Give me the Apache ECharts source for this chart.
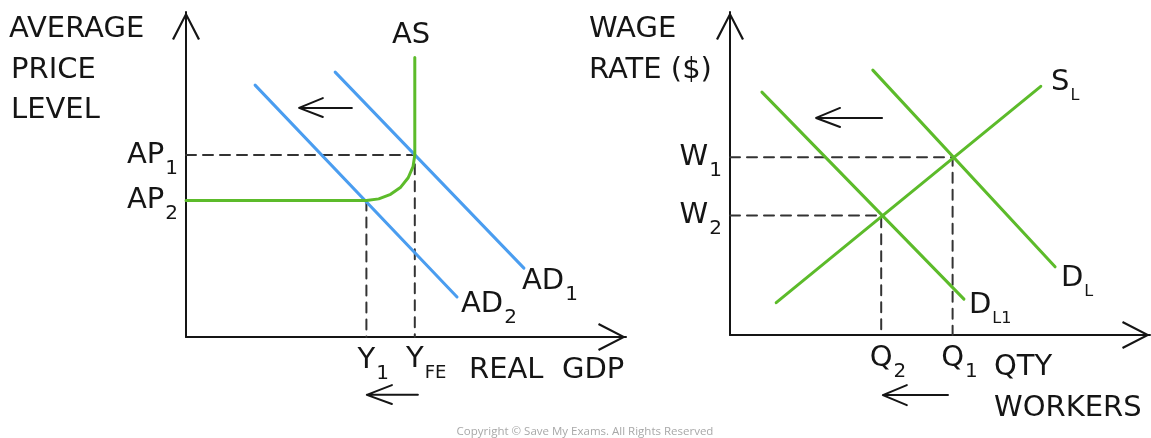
<!DOCTYPE html>
<html>
<head>
<meta charset="utf-8">
<script src="https://cdn.jsdelivr.net/npm/echarts@6/dist/echarts.min.js"></script>
<style>
  html, body { margin: 0; padding: 0; background: #fff; }
  #chart { width: 1151px; height: 438px; }
</style>
</head>
<body>
<div id="chart"></div>
<script>
// left panel: AD / AS, both axes run 0-100
const gdpTicks = [41, 52];
const gdpTickMain = ['Y', 'Y'];
const gdpTickSub = ['1', 'FE'];
const priceTicks = [42, 56];
const priceTickMain = ['AP', 'AP'];
const priceTickSub = ['2', '1'];
const adOne = [[33.9, 81.5], [76.8, 21.2]];
const adTwo = [[15.7, 77.5], [61.6, 12.3]];
const asCurve = [[0, 42], [41, 42], [43.8, 42.5], [46.5, 43.9], [48.8, 46.1], [50.5, 49], [51.6, 52.4], [52, 56], [52, 86]];
const apOneGuide = [[0, 56], [52, 56], [52, 0]];
const yOneGuide = [[41, 42], [41, 0]];

// right panel: labour market, both axes run 0-100
const qtyTicks = [36, 53];
const qtyTickMain = ['Q', 'Q'];
const qtyTickSub = ['2', '1'];
const wageTicks = [37, 55];
const wageTickMain = ['W', 'W'];
const wageTickSub = ['2', '1'];
const supplyL = [[11, 10], [74, 77]];
const demandL = [[34, 82], [77.4, 21.1]];
const demandL1 = [[7.6, 75.2], [55.7, 11.1]];
const wOneGuide = [[0, 55], [53, 55], [53, 0]];
const wTwoGuide = [[0, 37], [36, 37], [36, 0]];

// shift arrows (wing, tip, wing, tip, tail)
const shiftLeft = [[31.1, 73.5], [25.7, 70.5], [31.1, 67.7], [25.7, 70.5], [37.7, 70.5]];
const gdpArrow = [[46.8, -14.8], [41.1, -17.8], [46.8, -20.6], [41.1, -17.8], [52.7, -17.8]];
const priceArrow = [[-20.7, 46.8], [-18.4, 39.7], [-16.1, 46.8], [-18.4, 39.7], [-18.4, 55.4]];
const shiftRight = [[26.2, 70.3], [20.5, 67.2], [26.2, 64.4], [20.5, 67.2], [36.2, 67.2]];
const qtyArrow = [[42.1, -15.5], [36.4, -18.6], [42.1, -21.7], [36.4, -18.6], [51.9, -18.6]];
const wageArrow = [[-17.4, 42.4], [-15, 35], [-12.9, 42.4], [-15, 35], [-15, 55.1]];

const FONT = 'DejaVu Sans';
const INK = '#151515';
const BLUE = '#4a9df0';
const GREEN = '#5cbb2a';
const SIZE = 29;
// open arrow head for the axis ends, drawn pointing up
const CHEVRON = 'path://M14 0 L28 27 L26 28 L14 4.5 L2 28 L0 27 Z';

const rich = {
  m: { fontFamily: FONT, fontSize: SIZE, color: INK },
  s: { fontFamily: FONT, fontSize: 20, color: INK, padding: [27, 0, 0, 1] },
  f: { fontFamily: FONT, fontSize: 18, color: INK, padding: [27, 0, 0, 1] },
  hs: { fontFamily: FONT, fontSize: 20, color: 'transparent', padding: [27, 1, 0, 0] },
  hf: { fontFamily: FONT, fontSize: 18, color: 'transparent', padding: [27, 1, 0, 0] }
};

// subscript labels; on the x axis a hidden copy of the subscript keeps the letter over the tick
function tickText(ticks, main, sub, centred) {
  return function (v) {
    let i = ticks.indexOf(v);
    if (i < 0) return '';
    let key = sub[i].length > 1 ? 'f' : 's';
    let t = '{m|' + main[i] + '}{' + key + '|' + sub[i] + '}';
    return centred ? '{h' + key + '|' + sub[i] + '}' + t : t;
  };
}

function axis(grid, ticks, main, sub, centred, isX, shown) {
  return {
    gridIndex: grid,
    type: 'value',
    position: isX ? 'bottom' : 'left',
    min: 0,
    max: 100,
    axisLine: {
      show: true,
      onZero: false,
      symbol: ['none', CHEVRON],
      symbolSize: [28, 28],
      symbolOffset: [0, -14],
      lineStyle: { color: INK, width: 2 }
    },
    axisTick: { show: false },
    splitLine: { show: false },
    axisLabel: {
      customValues: shown || ticks,
      hideOverlap: false,
      margin: isX ? 0 : 8,
      formatter: tickText(ticks, main, sub, centred),
      rich: rich
    }
  };
}

function line(name, data, xi, color, width, dash) {
  return {
    name: name,
    type: 'line',
    xAxisIndex: xi,
    yAxisIndex: xi,
    data: data,
    showSymbol: false,
    symbol: 'none',
    clip: false,
    silent: true,
    z: dash ? 1 : 3,
    lineStyle: { color: color, width: width, type: dash ? [10, 7] : 'solid', cap: 'round', join: 'round' }
  };
}

function label(x, y, text) {
  return {
    type: 'text',
    x: x,
    y: y,
    style: {
      text: text,
      fill: INK,
      fontFamily: FONT,
      fontSize: SIZE,
      align: 'left',
      verticalAlign: 'middle',
      rich: {
        s: { fontFamily: FONT, fontSize: 20, fill: INK, padding: [27, 0, 0, 1] },
        t: { fontFamily: FONT, fontSize: 16, fill: INK, padding: [27, 0, 0, 1] }
      }
    }
  };
}

// the two GDP labels sit close together, so the second one is carried by a twin x axis
let gdpTwin = axis(0, gdpTicks, gdpTickMain, gdpTickSub, true, true, [gdpTicks[1]]);
gdpTwin.axisLine.show = false;

let myChart = echarts.init(document.getElementById('chart'));
let option = {
  animation: false,
  backgroundColor: '#fff',
  grid: [
    { left: 186, top: 12, width: 440, height: 325, containLabel: false, outerBoundsMode: 'none' },
    { left: 730, top: 12, width: 420, height: 323, containLabel: false, outerBoundsMode: 'none' }
  ],
  xAxis: [
    axis(0, gdpTicks, gdpTickMain, gdpTickSub, true, true, [gdpTicks[0]]),
    axis(1, qtyTicks, qtyTickMain, qtyTickSub, true, true),
    gdpTwin
  ],
  yAxis: [
    axis(0, priceTicks, priceTickMain, priceTickSub, false, false),
    axis(1, wageTicks, wageTickMain, wageTickSub, false, false)
  ],
  graphic: [
    label(9, 29, 'AVERAGE'),
    label(11, 70, 'PRICE'),
    label(11, 110, 'LEVEL'),
    label(392, 35, 'AS'),
    label(522, 281, 'AD{s|1}'),
    label(461, 304, 'AD{s|2}'),
    label(469, 370, 'REAL  GDP'),
    label(589, 29, 'WAGE'),
    label(589, 70, 'RATE ($)'),
    label(1051, 82, 'S{t|L}'),
    label(1061, 278, 'D{t|L}'),
    label(969, 305, 'D{t|L1}'),
    label(994, 367, 'QTY'),
    label(994, 408, 'WORKERS'),
    {
      type: 'text',
      x: 585,
      y: 432,
      style: { text: 'Copyright © Save My Exams. All Rights Reserved', fill: '#a8a8a8', fontFamily: 'Open Sans', fontSize: 11.5, align: 'center', verticalAlign: 'middle' }
    }
  ],
  series: [
    line('AP1 guide', apOneGuide, 0, '#333', 2, true),
    line('Y1 guide', yOneGuide, 0, '#333', 2, true),
    line('AD1', adOne, 0, BLUE, 3),
    line('AD2', adTwo, 0, BLUE, 3),
    line('AS', asCurve, 0, GREEN, 3),
    line('shift L', shiftLeft, 0, INK, 2),
    line('gdp arrow', gdpArrow, 0, INK, 2),
    line('price arrow', priceArrow, 0, INK, 2),

    line('W1 guide', wOneGuide, 1, '#333', 2, true),
    line('W2 guide', wTwoGuide, 1, '#333', 2, true),
    line('SL', supplyL, 1, GREEN, 3),
    line('DL', demandL, 1, GREEN, 3),
    line('DL1', demandL1, 1, GREEN, 3),
    line('shift R', shiftRight, 1, INK, 2),
    line('qty arrow', qtyArrow, 1, INK, 2),
    line('wage arrow', wageArrow, 1, INK, 2)
  ]
};

option && myChart.setOption(option);
</script>
</body>
</html>
